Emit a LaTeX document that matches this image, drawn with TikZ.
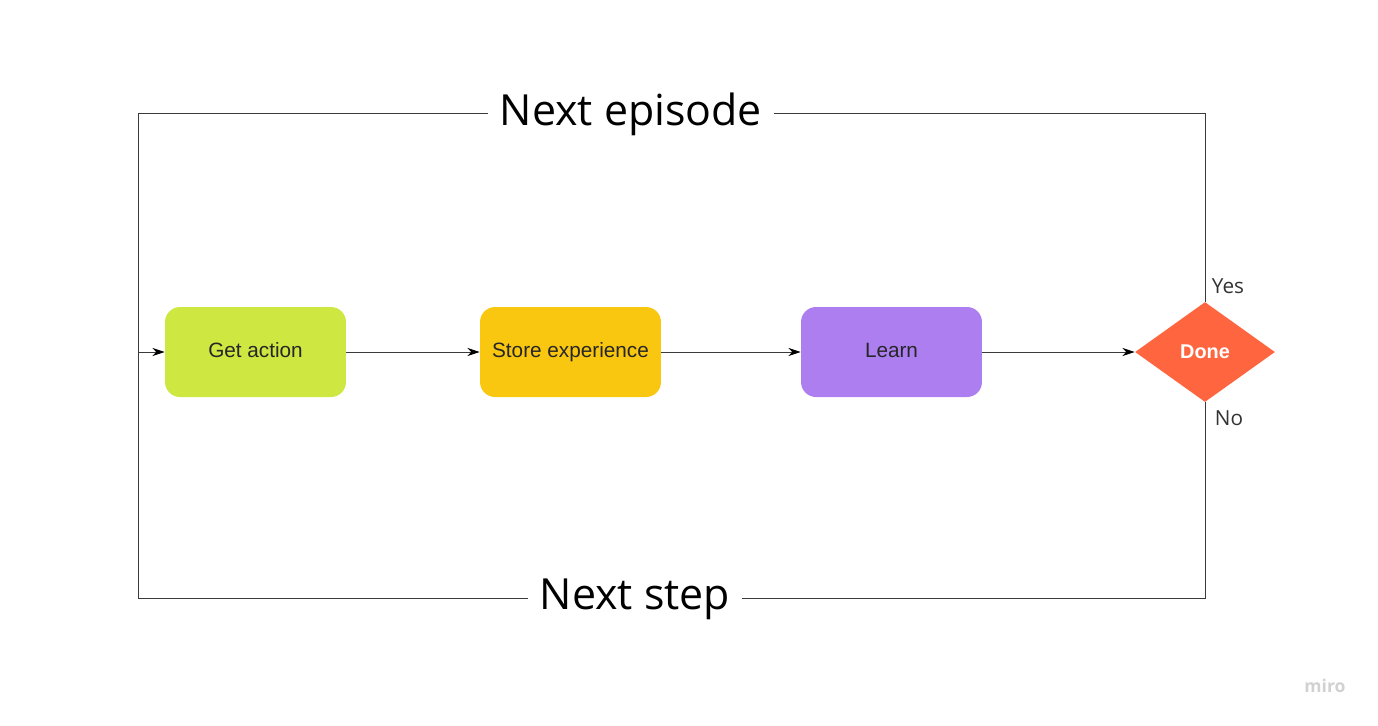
\documentclass[tikz,border=0pt]{standalone}
\usepackage{fontspec}
\usepackage{tikz}
\usetikzlibrary{shapes.geometric, arrows.meta}
\newfontfamily\labelfont{Open Sans}
\newfontfamily\boxfont{Liberation Sans}
\definecolor{limebox}{HTML}{CEE741}
\definecolor{yellowbox}{HTML}{FAC710}
\definecolor{purplebox}{HTML}{AC7EF0}
\definecolor{orangebox}{HTML}{FF6640}
\definecolor{linegray}{HTML}{3A3A3A}
\tikzset{
  stagebox/.style={rectangle, rounded corners=0.3cm, minimum width=3.62cm, minimum height=1.8cm,
    inner sep=0pt, text height=8.3pt, text depth=2.6pt, text=black!85,
    font=\boxfont\fontsize{11.8}{14}\selectfont},
  loopline/.style={draw=linegray, line width=0.5pt},
  looplabel/.style={fill=white, inner xsep=0.24cm, inner ysep=2pt, font=\labelfont\fontsize{24.4}{28}\selectfont},
  branchlabel/.style={text=black!80, font=\labelfont\fontsize{11.8}{14}\selectfont}
}

\begin{document}
\begin{tikzpicture}[>={Stealth[length=7pt, width=4.6pt, inset=2.2pt, color=black]}, x=0.02cm, y=-0.02cm]
  \useasboundingbox (0,0) rectangle (1378,725);
  \node[stagebox, fill=limebox] (get) at (255.5,352) {Get action};
  \node[stagebox, fill=yellowbox] (store) at (570.5,352) {Store experience};
  \node[stagebox, fill=purplebox] (learn) at (891.5,352) {Learn};
  \node[diamond, fill=orangebox, inner sep=0pt, minimum width=2.8cm, minimum height=2cm,
    text=white, font=\boxfont\bfseries\fontsize{11.3}{14}\selectfont] (done) at (1205,352) {Done};
  \coordinate (tl) at (138,113);
  \coordinate (bl) at (138,598);
  \coordinate (ml) at (138,352);
  % loop back lines
  \draw[loopline] (done.north) |- (tl) -- (bl);
  \draw[loopline] (done.south) |- (bl);
  \draw[loopline, ->] (ml) -- (get.west);
  \draw[loopline, ->] (get) -- (store);
  \draw[loopline, ->] (store) -- (learn);
  \draw[loopline, ->] (learn) -- (done);
  \node[looplabel] (episode) at (631,114) {Next episode};
  \node[looplabel] (nextstep) at (635,599) {Next step};
  \node[branchlabel] (yes) at (1228,286) {Yes};
  \node[branchlabel] (no) at (1229,418) {No};
  \node[text=black!18, font=\labelfont\bfseries\fontsize{10}{12}\selectfont] (miro) at (1325,686) {miro};
\end{tikzpicture}
\end{document}
